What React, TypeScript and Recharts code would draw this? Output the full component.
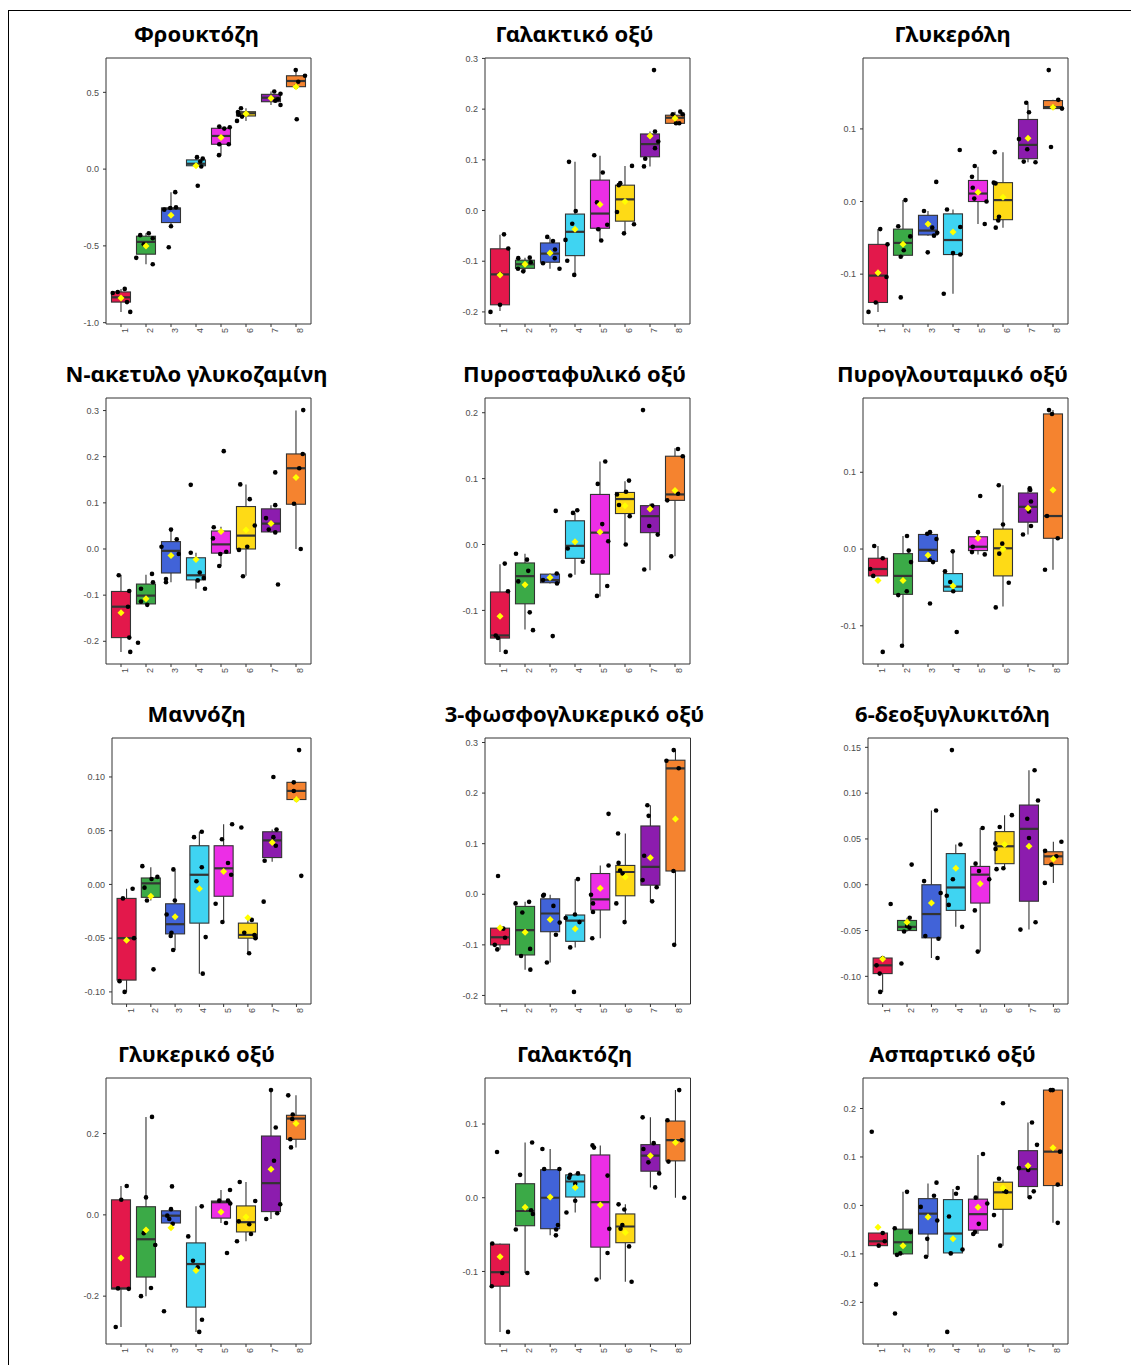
import React from "react";
import { ComposedChart, XAxis, YAxis, Bar, Scatter, ReferenceArea } from "recharts";

// Eight sample groups, shared by every panel
const groups = [1, 2, 3, 4, 5, 6, 7, 8];
const groupColors = ["#E3184B", "#3BAA47", "#4163D8", "#3FD4F2", "#EC2EE6", "#FEDA16", "#8C1CAE", "#F5832F"];

// Φρουκτόζη
const fruLow = [-0.93, -0.62, -0.372, 0.017, 0.091, 0.314, 0.418, 0.537];
const fruQ1 = [-0.866, -0.554, -0.348, 0.022, 0.162, 0.346, 0.439, 0.537];
const fruMedian = [-0.835, -0.474, -0.258, 0.035, 0.216, 0.364, 0.465, 0.574];
const fruQ3 = [-0.8, -0.437, -0.253, 0.06, 0.266, 0.374, 0.487, 0.608];
const fruHigh = [-0.78, -0.418, -0.15, 0.078, 0.277, 0.396, 0.506, 0.645];
const fruMean = [-0.84, -0.5, -0.3, 0.022, 0.206, 0.36, 0.461, 0.537];
const fruPoints = [
  [1, -0.33, -0.807], [1, -0.13, -0.8], [1, 0.15, -0.78], [1, 0.24, -0.866], [1, 0.37, -0.93],
  [2, -0.23, -0.43], [2, 0.11, -0.418], [2, 0.27, -0.45], [2, -0.09, -0.49], [2, -0.39, -0.578], [2, 0.27, -0.62],
  [3, 0.17, -0.15], [3, -0.27, -0.264], [3, -0.03, -0.253], [3, 0.2, -0.249], [3, 0, -0.372], [3, -0.09, -0.509],
  [4, 0.04, 0.078], [4, 0.27, 0.069], [4, 0.17, 0.05], [4, 0.21, 0.017], [4, 0.07, -0.108],
  [5, -0.07, 0.277], [5, 0.13, 0.264], [5, 0.35, 0.273], [5, -0.07, 0.162], [5, 0.31, 0.162], [5, -0.08, 0.091],
  [6, -0.36, 0.314], [6, -0.32, 0.372], [6, -0.2, 0.396], [6, -0.16, 0.342], [6, -0.29, 0.355],
  [7, 0.13, 0.506], [7, 0.38, 0.491], [7, 0.28, 0.455], [7, 0.38, 0.418], [7, 0.17, 0.446],
  [8, -0.01, 0.645], [8, 0.36, 0.608], [8, 0.09, 0.569], [8, 0, 0.537], [8, 0.03, 0.325],
];
const fruTicks = [-1, -0.5, 0, 0.5];

// Γαλακτικό οξύ
const lacLow = [-0.198, -0.12, -0.115, -0.127, -0.059, -0.045, 0.087, 0.172];
const lacQ1 = [-0.186, -0.114, -0.102, -0.089, -0.035, -0.021, 0.106, 0.172];
const lacMedian = [-0.126, -0.106, -0.085, -0.042, -0.006, 0.022, 0.131, 0.183];
const lacQ3 = [-0.0755, -0.098, -0.064, -0.007, 0.06, 0.05, 0.151, 0.188];
const lacHigh = [-0.048, -0.093, -0.053, 0.096, 0.108, 0.088, 0.156, 0.195];
const lacMean = [-0.127, -0.106, -0.084, -0.037, 0.012, 0.018, 0.147, 0.182];
const lacPoints = [
  [1, 0.16, -0.047], [1, 0.33, -0.075], [1, 0, -0.186], [1, -0.38, -0.2], [1, 0, -0.126],
  [2, -0.27, -0.094], [2, 0.19, -0.093], [2, -0.28, -0.115], [2, -0.07, -0.12], [2, 0.23, -0.102],
  [3, -0.11, -0.052], [3, 0.12, -0.06], [3, 0.2, -0.077], [3, 0.19, -0.094], [3, -0.28, -0.104], [3, 0.38, -0.115],
  [4, -0.24, 0.096], [4, 0.03, -0.001], [4, -0.11, -0.026], [4, -0.38, -0.058], [4, -0.31, -0.099], [4, -0.03, -0.127],
  [5, -0.23, 0.109], [5, 0.11, 0.075], [5, -0.12, 0.016], [5, 0.29, -0.028], [5, -0.07, -0.037], [5, 0.05, -0.059],
  [6, 0.28, 0.088], [6, -0.19, 0.054], [6, -0.25, 0.05], [6, -0.32, -0.003], [6, 0.36, -0.027], [6, -0.04, -0.045],
  [7, 0.16, 0.277], [7, 0.2, 0.156], [7, 0.33, 0.136], [7, 0.2, 0.123], [7, -0.19, 0.102], [7, -0.24, 0.087],
  [8, 0.21, 0.195], [8, 0.31, 0.19], [8, 0.04, 0.172], [8, 0.17, 0.172], [8, -0.09, 0.19], [8, 0.01, 0.183],
];
const lacTicks = [-0.2, -0.1, 0, 0.1, 0.2, 0.3];

// Γλυκερόλη
const glyLow = [-0.152, -0.076, -0.047, -0.127, -0.031, -0.036, 0.054, 0.128];
const glyQ1 = [-0.139, -0.074, -0.046, -0.073, 0.0, -0.025, 0.059, 0.128];
const glyMedian = [-0.102, -0.057, -0.04, -0.053, 0.011, 0.002, 0.078, 0.13];
const glyQ3 = [-0.059, -0.038, -0.019, -0.017, 0.029, 0.026, 0.113, 0.139];
const glyHigh = [-0.038, 0.002, -0.013, -0.011, 0.048, 0.068, 0.135, 0.14];
const glyMean = [-0.098, -0.059, -0.031, -0.042, 0.0128, 0.006, 0.087, 0.13];
const glyPoints = [
  [1, 0.09, -0.038], [1, 0.38, -0.059], [1, 0.34, -0.104], [1, -0.09, -0.139], [1, -0.38, -0.152],
  [2, 0.1, 0.002], [2, -0.19, -0.034], [2, 0.29, -0.048], [2, 0.03, -0.067], [2, -0.09, -0.076], [2, -0.09, -0.132],
  [3, -0.16, -0.013], [3, 0.33, 0.027], [3, 0.17, -0.036], [3, 0.37, -0.043], [3, 0.24, -0.047], [3, -0.01, -0.07],
  [4, 0.27, 0.071], [4, -0.24, -0.011], [4, 0.29, -0.035], [4, 0, -0.071], [4, 0.29, -0.073], [4, -0.37, -0.127],
  [5, -0.13, 0.049], [5, -0.24, 0.034], [5, -0.21, 0.019], [5, -0.15, 0.004], [5, 0.34, 0.0], [5, 0.27, -0.031],
  [6, -0.33, 0.068], [6, -0.37, 0.026], [6, -0.3, 0.025], [6, -0.16, -0.021], [6, -0.19, -0.026], [6, -0.29, -0.036],
  [7, -0.07, 0.136], [7, 0.04, 0.123], [7, -0.36, 0.086], [7, -0.03, 0.072], [7, -0.17, 0.055], [7, 0.3, 0.054],
  [8, -0.17, 0.181], [8, 0.21, 0.14], [8, 0.36, 0.128], [8, -0.08, 0.075], [8, 0.01, 0.13],
];
const glyTicks = [-0.1, 0, 0.1];

// N-ακετυλο γλυκοζαμίνη
const nagLow = [-0.223, -0.121, -0.072, -0.086, -0.037, -0.058, 0.036, 0.0];
const nagQ1 = [-0.192, -0.119, -0.052, -0.067, -0.009, 0.0, 0.037, 0.097];
const nagMedian = [-0.125, -0.101, -0.004, -0.057, 0.01, 0.029, 0.055, 0.175];
const nagQ3 = [-0.092, -0.076, 0.016, -0.019, 0.039, 0.092, 0.087, 0.206];
const nagHigh = [-0.056, -0.056, 0.042, -0.008, 0.048, 0.14, 0.095, 0.3];
const nagMean = [-0.138, -0.108, -0.014, -0.023, 0.038, 0.041, 0.055, 0.155];
const nagPoints = [
  [1, -0.09, -0.057], [1, 0.33, -0.091], [1, 0.28, -0.125], [1, 0.33, -0.192], [1, 0.37, -0.223],
  [2, 0.24, -0.054], [2, 0.28, -0.072], [2, -0.2, -0.086], [2, -0.2, -0.114], [2, 0.05, -0.121], [2, -0.32, -0.203],
  [3, 0, 0.042], [3, 0.23, 0.021], [3, -0.38, 0.005], [3, 0.31, -0.011], [3, -0.2, -0.065], [3, -0.2, -0.072],
  [4, -0.21, 0.139], [4, -0.21, -0.008], [4, 0.15, -0.051], [4, 0.07, -0.068], [4, 0.31, -0.063], [4, 0.36, -0.086],
  [5, 0.11, 0.212], [5, -0.29, 0.047], [5, -0.32, 0.023], [5, -0.03, -0.011], [5, 0.21, -0.006], [5, -0.07, -0.037],
  [6, -0.23, 0.14], [6, 0.15, 0.108], [6, 0.35, 0.051], [6, 0.05, 0.005], [6, -0.28, -0.002], [6, -0.12, -0.059],
  [7, 0.17, 0.166], [7, 0.17, 0.095], [7, -0.2, 0.067], [7, -0.09, 0.042], [7, 0.17, 0.036], [7, 0.28, -0.077],
  [8, 0.29, 0.301], [8, 0.27, 0.206], [8, 0.13, 0.175], [8, -0.08, 0.098], [8, 0.19, 0.0],
];
const nagTicks = [-0.2, -0.1, 0, 0.1, 0.2, 0.3];

// Πυροσταφυλικό οξύ
const pyrLow = [-0.163, -0.129, -0.059, -0.046, -0.079, 0.0, -0.039, -0.018];
const pyrQ1 = [-0.142, -0.09, -0.058, -0.021, -0.045, 0.047, 0.018, 0.067];
const pyrMedian = [-0.138, -0.048, -0.054, -0.002, 0.018, 0.069, 0.043, 0.076];
const pyrQ3 = [-0.072, -0.028, -0.045, 0.036, 0.076, 0.079, 0.059, 0.134];
const pyrHigh = [-0.03, -0.014, -0.044, 0.048, 0.126, 0.096, 0.062, 0.146];
const pyrMean = [-0.109, -0.061, -0.05, 0.004, 0.019, 0.059, 0.054, 0.082];
const pyrPoints = [
  [1, 0.19, -0.029], [1, 0.32, -0.071], [1, -0.17, -0.138], [1, -0.08, -0.142], [1, 0.23, -0.163],
  [2, -0.36, -0.014], [2, 0.08, -0.023], [2, 0.13, -0.04], [2, -0.27, -0.056], [2, 0.19, -0.103], [2, 0.32, -0.13],
  [3, 0.23, 0.051], [3, 0.27, -0.044], [3, -0.28, -0.054], [3, 0.28, -0.059], [3, 0.11, -0.139],
  [4, 0.09, 0.052], [4, -0.08, 0.048], [4, -0.29, -0.006], [4, 0.31, -0.026], [4, -0.19, -0.047],
  [5, 0.21, 0.126], [5, -0.09, 0.092], [5, 0.09, 0.031], [5, 0.33, 0.005], [5, 0.29, -0.063], [5, -0.12, -0.078],
  [6, 0.16, 0.097], [6, 0.04, 0.08], [6, -0.32, 0.076], [6, -0.24, 0.06], [6, 0.19, 0.043], [6, 0.03, 0.0],
  [7, -0.28, 0.204], [7, 0.09, 0.059], [7, -0.03, 0.028], [7, 0.31, 0.015], [7, -0.23, -0.038],
  [8, 0.12, 0.145], [8, 0.31, 0.134], [8, 0.12, 0.077], [8, -0.31, 0.067], [8, -0.15, -0.018],
];
const pyrTicks = [-0.1, 0, 0.1, 0.2];

// Πυρογλουταμικό οξύ
const pglLow = [-0.035, -0.126, -0.017, -0.055, -0.007, -0.075, 0.019, -0.027];
const pglQ1 = [-0.035, -0.059, -0.016, -0.055, -0.002, -0.035, 0.035, 0.014];
const pglMedian = [-0.026, -0.035, -0.001, -0.049, 0.003, 0.001, 0.055, 0.043];
const pglQ3 = [-0.012, -0.006, 0.019, -0.032, 0.016, 0.026, 0.073, 0.176];
const pglHigh = [0.004, 0.017, 0.022, -0.003, 0.022, 0.083, 0.079, 0.181];
const pglMean = [-0.041, -0.041, -0.008, -0.048, 0.014, 0.0, 0.053, 0.077];
const pglPoints = [
  [1, -0.15, 0.004], [1, 0.19, -0.012], [1, -0.31, -0.026], [1, -0.19, -0.035], [1, 0.19, -0.134],
  [2, 0.16, 0.017], [2, 0.23, -0.002], [2, 0.32, -0.017], [2, 0.15, -0.055], [2, -0.19, -0.06], [2, -0.04, -0.126],
  [3, -0.03, 0.02], [3, 0.08, 0.022], [3, 0.34, 0.013], [3, 0.07, -0.014], [3, 0.2, -0.017], [3, 0.08, -0.071],
  [4, -0.01, -0.003], [4, -0.32, -0.029], [4, -0.11, -0.043], [4, 0.01, -0.055], [4, 0.15, -0.108],
  [5, 0.09, 0.069], [5, 0, 0.022], [5, -0.21, 0.003], [5, -0.24, -0.004], [5, 0.27, -0.007],
  [6, -0.17, 0.083], [6, 0, 0.032], [6, -0.03, 0.007], [6, -0.15, -0.006], [6, 0.23, -0.044], [6, -0.29, -0.076],
  [7, 0.07, 0.079], [7, 0.09, 0.077], [7, 0.12, 0.062], [7, 0.04, 0.049], [7, 0.12, 0.03], [7, -0.2, 0.019],
  [8, -0.16, 0.181], [8, -0.04, 0.176], [8, -0.24, 0.043], [8, 0.19, 0.014], [8, -0.32, -0.027],
];
const pglTicks = [-0.1, 0, 0.1];

// Μαννόζη
const manLow = [-0.1, -0.015, -0.061, -0.083, -0.035, -0.064, 0.021, 0.079];
const manQ1 = [-0.089, -0.012, -0.046, -0.036, -0.011, -0.05, 0.025, 0.079];
const manMedian = [-0.05, 0.001, -0.037, 0.009, 0.015, -0.047, 0.041, 0.087];
const manQ3 = [-0.013, 0.006, -0.018, 0.036, 0.036, -0.036, 0.049, 0.095];
const manHigh = [-0.004, 0.016, 0.013, 0.049, 0.056, -0.033, 0.051, 0.095];
const manMean = [-0.052, -0.011, -0.03, -0.004, 0.012, -0.031, 0.039, 0.079];
const manPoints = [
  [1, 0.25, -0.004], [1, -0.15, -0.013], [1, 0.31, -0.05], [1, -0.29, -0.09], [1, -0.08, -0.1],
  [2, -0.35, 0.017], [2, 0.27, 0.007], [2, 0.03, 0.005], [2, -0.26, -0.003], [2, -0.16, -0.015], [2, 0.11, -0.079],
  [3, -0.07, 0.014], [3, -0.01, -0.015], [3, -0.35, -0.028], [3, -0.15, -0.045], [3, -0.18, -0.048], [3, -0.08, -0.061],
  [4, -0.22, 0.044], [4, 0.1, 0.049], [4, 0.1, 0.016], [4, -0.12, 0.003], [4, 0.26, -0.049], [4, 0.14, -0.083],
  [5, 0.35, 0.056], [5, -0.07, 0.042], [5, 0.18, 0.02], [5, 0.31, 0.009], [5, -0.33, -0.018], [5, -0.05, -0.035],
  [6, -0.27, 0.053], [6, 0.16, -0.033], [6, -0.15, -0.045], [6, 0.27, -0.047], [6, 0.31, -0.05], [6, 0.05, -0.064],
  [7, 0.05, 0.1], [7, 0.18, 0.051], [7, 0.05, 0.044], [7, 0.15, 0.036], [7, -0.31, 0.022], [7, -0.35, -0.016],
  [8, 0.11, 0.125], [8, -0.11, 0.095], [8, -0.11, 0.087], [8, 0, 0.079], [8, 0.2, 0.008],
];
const manTicks = [-0.1, -0.05, 0, 0.05, 0.1];

// 3-φωσφογλυκερικό οξύ
const pgaLow = [-0.109, -0.149, -0.135, -0.105, -0.087, -0.055, -0.014, -0.1];
const pgaQ1 = [-0.1, -0.12, -0.074, -0.093, -0.031, -0.003, 0.018, 0.046];
const pgaMedian = [-0.085, -0.071, -0.038, -0.052, -0.01, 0.044, 0.054, 0.249];
const pgaQ3 = [-0.067, -0.024, -0.009, -0.041, 0.041, 0.057, 0.135, 0.265];
const pgaHigh = [-0.067, -0.015, -0.001, 0.03, 0.057, 0.12, 0.176, 0.285];
const pgaMean = [-0.066, -0.075, -0.05, -0.068, 0.012, 0.034, 0.072, 0.149];
const pgaPoints = [
  [1, -0.08, 0.036], [1, 0.13, -0.068], [1, 0.2, -0.086], [1, -0.21, -0.1], [1, -0.11, -0.109],
  [2, -0.38, -0.018], [2, 0.16, -0.015], [2, -0.11, -0.036], [2, 0.2, -0.108], [2, -0.16, -0.122], [2, 0.21, -0.149],
  [3, -0.25, -0.001], [3, -0.28, -0.003], [3, 0.13, -0.023], [3, 0.38, -0.056], [3, 0.23, -0.08], [3, -0.13, -0.135],
  [4, 0.11, 0.03], [4, -0.01, -0.04], [4, -0.38, -0.047], [4, 0.17, -0.055], [4, -0.2, -0.105], [4, -0.05, -0.193],
  [5, 0.33, 0.159], [5, 0.33, 0.057], [5, -0.37, -0.001], [5, -0.29, -0.018], [5, -0.29, -0.035], [5, -0.32, -0.087],
  [6, -0.29, 0.12], [6, -0.27, 0.062], [6, -0.21, 0.047], [6, -0.11, 0.041], [6, -0.36, -0.018], [6, -0.03, -0.055],
  [7, -0.12, 0.176], [7, -0.07, 0.155], [7, -0.25, 0.076], [7, -0.31, 0.028], [7, 0.25, 0.014], [7, 0.07, -0.014],
  [8, -0.07, 0.285], [8, -0.36, 0.264], [8, 0.13, 0.249], [8, -0.08, 0.046], [8, -0.05, -0.1],
];
const pgaTicks = [-0.2, -0.1, 0, 0.1, 0.2, 0.3];

// 6-δεοξυγλυκιτόλη
const ddgLow = [-0.117, -0.051, -0.08, -0.046, -0.073, 0.017, -0.049, 0.002];
const ddgQ1 = [-0.097, -0.05, -0.058, -0.028, -0.02, 0.023, -0.018, 0.022];
const ddgMedian = [-0.088, -0.046, -0.032, -0.003, 0.011, 0.042, 0.061, 0.031];
const ddgQ3 = [-0.08, -0.039, 0.0, 0.034, 0.02, 0.058, 0.087, 0.036];
const ddgHigh = [-0.08, -0.036, 0.081, 0.044, 0.062, 0.076, 0.125, 0.047];
const ddgMean = [-0.081, -0.041, -0.02, 0.018, 0.001, 0.044, 0.042, 0.028];
const ddgPoints = [
  [1, 0.33, -0.021], [1, -0.25, -0.088], [1, -0.12, -0.097], [1, -0.1, -0.117], [1, 0, -0.08],
  [2, 0.19, 0.022], [2, 0.11, -0.036], [2, 0, -0.045], [2, 0.1, -0.047], [2, -0.12, -0.051], [2, -0.23, -0.086],
  [3, 0.19, 0.081], [3, -0.3, 0.004], [3, 0.38, -0.009], [3, -0.25, -0.056], [3, 0.29, -0.059], [3, 0.25, -0.08],
  [4, -0.16, 0.147], [4, 0.19, 0.044], [4, -0.12, 0.006], [4, -0.37, -0.012], [4, -0.29, -0.022], [4, 0.26, -0.046],
  [5, 0.1, 0.062], [5, -0.19, 0.023], [5, -0.05, 0.015], [5, 0.37, 0.006], [5, -0.22, -0.028], [5, -0.1, -0.073],
  [6, 0.3, 0.076], [6, -0.2, 0.063], [6, -0.38, 0.045], [6, -0.37, 0.039], [6, -0.05, 0.018], [6, -0.33, 0.017],
  [7, 0.23, 0.125], [7, 0.37, 0.092], [7, -0.07, 0.072], [7, 0, 0.051], [7, 0.27, -0.041], [7, -0.35, -0.049],
  [8, 0.33, 0.047], [8, -0.34, 0.037], [8, 0.12, 0.031], [8, -0.08, 0.022], [8, -0.35, 0.002],
];
const ddgTicks = [-0.1, -0.05, 0, 0.05, 0.1, 0.15];

// Γλυκερικό οξύ
const glcLow = [-0.276, -0.2, -0.022, -0.288, -0.02, -0.065, -0.01, 0.166];
const glcQ1 = [-0.182, -0.153, -0.02, -0.227, -0.008, -0.042, 0.008, 0.186];
const glcMedian = [-0.181, -0.06, -0.002, -0.121, 0.031, -0.018, 0.078, 0.237];
const glcQ3 = [0.037, 0.02, 0.01, -0.069, 0.034, 0.022, 0.194, 0.245];
const glcHigh = [0.071, 0.241, 0.014, 0.021, 0.061, 0.081, 0.307, 0.294];
const glcMean = [-0.106, -0.037, -0.032, -0.137, 0.007, -0.005, 0.112, 0.225];
const glcPoints = [
  [1, 0.23, 0.071], [1, 0.01, 0.037], [1, -0.12, -0.181], [1, 0.31, -0.182], [1, -0.21, -0.276],
  [2, 0.24, 0.241], [2, 0, 0.043], [2, -0.09, -0.045], [2, 0.37, -0.074], [2, 0.2, -0.18], [2, -0.2, -0.2],
  [3, 0.04, 0.07], [3, 0, 0.014], [3, -0.15, -0.002], [3, -0.07, -0.01], [3, 0.07, -0.022], [3, -0.28, -0.237],
  [4, 0.23, 0.021], [4, -0.31, -0.053], [4, -0.12, -0.113], [4, 0.07, -0.129], [4, 0.24, -0.258], [4, 0.13, -0.288],
  [5, 0.36, 0.061], [5, -0.07, 0.035], [5, 0.28, 0.035], [5, 0.37, 0.028], [5, 0.2, -0.02], [5, 0.24, -0.094],
  [6, -0.25, 0.081], [6, 0.37, 0.034], [6, -0.29, -0.016], [6, 0.13, -0.023], [6, 0.2, -0.047], [6, -0.36, -0.065],
  [7, 0, 0.307], [7, 0.19, 0.215], [7, 0.12, 0.133], [7, 0.37, 0.026], [7, 0.25, 0.004], [7, -0.19, -0.01],
  [8, -0.31, 0.294], [8, -0.13, 0.247], [8, -0.15, 0.236], [8, -0.23, 0.186], [8, -0.2, 0.166],
];
const glcTicks = [-0.2, 0, 0.2];

// Γαλακτόζη
const galLow = [-0.182, -0.102, -0.051, -0.02, -0.111, -0.114, 0.014, 0.0];
const galQ1 = [-0.12, -0.038, -0.042, 0.001, -0.067, -0.061, 0.036, 0.05];
const galMedian = [-0.101, -0.018, 0.0, 0.022, -0.006, -0.039, 0.057, 0.078];
const galQ3 = [-0.063, 0.019, 0.038, 0.031, 0.058, -0.022, 0.072, 0.104];
const galHigh = [-0.062, 0.075, 0.066, 0.033, 0.071, -0.009, 0.109, 0.146];
const galMean = [-0.08, -0.013, 0.001, 0.014, -0.01, -0.047, 0.057, 0.075];
const galPoints = [
  [1, -0.12, 0.062], [1, -0.31, -0.062], [1, 0.09, -0.102], [1, -0.33, -0.12], [1, 0.32, -0.182],
  [2, 0.28, 0.075], [2, -0.2, 0.031], [2, 0.24, -0.017], [2, 0.31, -0.022], [2, -0.37, -0.043], [2, 0.09, -0.102],
  [3, -0.31, 0.066], [3, -0.24, 0.039], [3, 0.37, 0.039], [3, 0.31, -0.037], [3, 0.24, -0.043], [3, 0.23, -0.051],
  [4, 0.11, 0.033], [4, -0.2, 0.031], [4, -0.24, 0.027], [4, 0, 0.019], [4, 0, -0.004], [4, -0.35, -0.02],
  [5, -0.31, 0.071], [5, -0.25, 0.068], [5, 0.29, 0.03], [5, 0.36, -0.042], [5, 0.29, -0.075], [5, -0.15, -0.111],
  [6, -0.27, -0.009], [6, -0.04, -0.016], [6, -0.19, -0.042], [6, -0.12, -0.037], [6, 0.15, -0.066], [6, 0.25, -0.114],
  [7, -0.31, 0.109], [7, 0.13, 0.074], [7, -0.28, 0.066], [7, -0.08, 0.048], [7, 0.35, 0.033], [7, 0.19, 0.014],
  [8, 0.15, 0.146], [8, -0.32, 0.105], [8, 0.25, 0.078], [8, -0.28, 0.049], [8, 0.35, 0.0],
];
const galTicks = [-0.1, 0, 0.1];

// Ασπαρτικό οξύ
const aspLow = [-0.083, -0.102, -0.106, -0.099, -0.059, -0.083, 0.017, -0.036];
const aspQ1 = [-0.083, -0.1, -0.059, -0.098, -0.051, -0.008, 0.039, 0.041];
const aspMedian = [-0.074, -0.076, -0.017, -0.058, -0.018, 0.027, 0.075, 0.111];
const aspQ3 = [-0.057, -0.049, 0.014, 0.012, 0.013, 0.048, 0.113, 0.238];
const aspHigh = [-0.057, 0.028, 0.045, 0.034, 0.104, 0.053, 0.171, 0.238];
const aspMean = [-0.045, -0.083, -0.024, -0.069, -0.004, 0.036, 0.082, 0.119];
const aspPoints = [
  [1, -0.25, 0.152], [1, 0.19, -0.057], [1, 0.27, -0.074], [1, 0.03, -0.083], [1, -0.08, -0.163],
  [2, 0.16, 0.028], [2, -0.33, -0.047], [2, 0.31, -0.055], [2, -0.11, -0.099], [2, -0.24, -0.102], [2, -0.32, -0.223],
  [3, 0.34, 0.047], [3, 0.24, 0.02], [3, -0.29, -0.003], [3, 0.37, -0.031], [3, -0.03, -0.069], [3, -0.08, -0.106],
  [4, 0.19, 0.036], [4, 0.12, 0.024], [4, -0.16, -0.023], [4, 0.38, -0.091], [4, -0.09, -0.099], [4, -0.23, -0.261],
  [5, 0.2, 0.106], [5, -0.09, 0.016], [5, 0.37, 0.004], [5, 0.03, -0.038], [5, -0.12, -0.055], [5, -0.19, -0.059],
  [6, 0, 0.211], [6, -0.16, 0.055], [6, 0.05, 0.03], [6, 0.13, 0.028], [6, -0.36, -0.02], [6, -0.11, -0.083],
  [7, 0.16, 0.171], [7, 0.36, 0.125], [7, 0.01, 0.073], [7, -0.36, 0.077], [7, 0.23, 0.029], [7, 0.07, 0.017],
  [8, -0.09, 0.238], [8, -0.01, 0.238], [8, 0.28, 0.111], [8, 0.19, 0.043], [8, 0.19, -0.036],
];
const aspTicks = [-0.2, -0.1, 0, 0.1, 0.2];

type PanelDef = {
  title: string;
  lo: number[];
  q1: number[];
  med: number[];
  q3: number[];
  hi: number[];
  mean: number[];
  points: number[][];
  ticks: number[];
  digits: number;
  row: number;
  col: number;
  plotLeft: number;
};

const panels: PanelDef[] = [
  { title: "Φρουκτόζη", lo: fruLow, q1: fruQ1, med: fruMedian, q3: fruQ3, hi: fruHigh, mean: fruMean, points: fruPoints, ticks: fruTicks, digits: 1, row: 0, col: 0, plotLeft: 106 },
  { title: "Γαλακτικό οξύ", lo: lacLow, q1: lacQ1, med: lacMedian, q3: lacQ3, hi: lacHigh, mean: lacMean, points: lacPoints, ticks: lacTicks, digits: 1, row: 0, col: 1, plotLeft: 485 },
  { title: "Γλυκερόλη", lo: glyLow, q1: glyQ1, med: glyMedian, q3: glyQ3, hi: glyHigh, mean: glyMean, points: glyPoints, ticks: glyTicks, digits: 1, row: 0, col: 2, plotLeft: 863 },
  { title: "N-ακετυλο γλυκοζαμίνη", lo: nagLow, q1: nagQ1, med: nagMedian, q3: nagQ3, hi: nagHigh, mean: nagMean, points: nagPoints, ticks: nagTicks, digits: 1, row: 1, col: 0, plotLeft: 106 },
  { title: "Πυροσταφυλικό οξύ", lo: pyrLow, q1: pyrQ1, med: pyrMedian, q3: pyrQ3, hi: pyrHigh, mean: pyrMean, points: pyrPoints, ticks: pyrTicks, digits: 1, row: 1, col: 1, plotLeft: 485 },
  { title: "Πυρογλουταμικό οξύ", lo: pglLow, q1: pglQ1, med: pglMedian, q3: pglQ3, hi: pglHigh, mean: pglMean, points: pglPoints, ticks: pglTicks, digits: 1, row: 1, col: 2, plotLeft: 863 },
  { title: "Μαννόζη", lo: manLow, q1: manQ1, med: manMedian, q3: manQ3, hi: manHigh, mean: manMean, points: manPoints, ticks: manTicks, digits: 2, row: 2, col: 0, plotLeft: 112 },
  { title: "3-φωσφογλυκερικό οξύ", lo: pgaLow, q1: pgaQ1, med: pgaMedian, q3: pgaQ3, hi: pgaHigh, mean: pgaMean, points: pgaPoints, ticks: pgaTicks, digits: 1, row: 2, col: 1, plotLeft: 484.5 },
  { title: "6-δεοξυγλυκιτόλη", lo: ddgLow, q1: ddgQ1, med: ddgMedian, q3: ddgQ3, hi: ddgHigh, mean: ddgMean, points: ddgPoints, ticks: ddgTicks, digits: 2, row: 2, col: 2, plotLeft: 868 },
  { title: "Γλυκερικό οξύ", lo: glcLow, q1: glcQ1, med: glcMedian, q3: glcQ3, hi: glcHigh, mean: glcMean, points: glcPoints, ticks: glcTicks, digits: 1, row: 3, col: 0, plotLeft: 106 },
  { title: "Γαλακτόζη", lo: galLow, q1: galQ1, med: galMedian, q3: galQ3, hi: galHigh, mean: galMean, points: galPoints, ticks: galTicks, digits: 1, row: 3, col: 1, plotLeft: 484.5 },
  { title: "Ασπαρτικό οξύ", lo: aspLow, q1: aspQ1, med: aspMedian, q3: aspQ3, hi: aspHigh, mean: aspMean, points: aspPoints, ticks: aspTicks, digits: 1, row: 3, col: 2, plotLeft: 863 },
];

// Page layout
const PLOT_RIGHT = [311, 690, 1068];
const TITLE_CENTER = [196.5, 574.5, 952.5];
const FIRST_TOP = 58;
const ROW_STEP = 340;
const PLOT_H = 266;
const Y_AXIS_W = 40;
const TOP_PAD = 5;
const RIGHT_PAD = 4;
const X_AXIS_H = 22;
const X_DOMAIN: [number, number] = [0.4, 8.6];
const BOX_HALF_W = 9.5;

const AXIS_TEXT = "#4d4d4d";
const FRAME = "#333333";
const TICK_FONT = "'Liberation Sans', Arial, sans-serif";

// Box + whiskers + median, anchored on the range bar [q1, q3]
const BoxShape = (props: any) => {
  const { x, y, width, height, payload } = props;
  if (x == null || y == null) return null;
  const top = Math.min(y, y + height);
  const h = Math.abs(height);
  const { q1, q3, lo, hi, med, color } = payload;
  const py = (v: number) => top + ((q3 - v) / (q3 - q1)) * h;
  const cx = x + (width || 0) / 2;
  const left = cx - BOX_HALF_W;
  const right = cx + BOX_HALF_W;
  return (
    <g>
      <line x1={cx} x2={cx} y1={py(hi)} y2={top} stroke={FRAME} strokeWidth={1.1} />
      <line x1={cx} x2={cx} y1={top + h} y2={py(lo)} stroke={FRAME} strokeWidth={1.1} />
      <rect x={left} y={top} width={right - left} height={h} fill={color} stroke={FRAME} strokeWidth={1.1} />
      <line x1={left} x2={right} y1={py(med)} y2={py(med)} stroke={FRAME} strokeWidth={2.2} />
    </g>
  );
};

const Dot = (p: any) => <circle cx={p.cx} cy={p.cy} r={2.3} fill="#000" />;

const Diamond = (p: any) => {
  const s = 3.5;
  const { cx, cy } = p;
  return <polygon points={`${cx},${cy - s} ${cx + s},${cy} ${cx},${cy + s} ${cx - s},${cy}`} fill="#FFFF00" />;
};

const XTick = (p: any) => {
  const { x, y, payload } = p;
  return (
    <text x={x} y={y} dy={7} textAnchor="end" transform={`rotate(-90 ${x} ${y})`} fontSize={9} fill={AXIS_TEXT} fontFamily={TICK_FONT}>
      {payload.value}
    </text>
  );
};

function BoxPanel({ panel }: { panel: PanelDef }) {
  const rows = groups.map((g, i) => ({
    x: g,
    box: [panel.q1[i], panel.q3[i]],
    lo: panel.lo[i],
    q1: panel.q1[i],
    med: panel.med[i],
    q3: panel.q3[i],
    hi: panel.hi[i],
    color: groupColors[i],
  }));
  const pts = panel.points.map(([g, dx, y]) => ({ x: g + dx, y }));
  const means = groups.map((g, i) => ({ x: g, y: panel.mean[i] }));

  // ggplot-style 5% expansion around the plotted values
  const vals = [...panel.points.map((p) => p[2]), ...panel.lo, ...panel.hi];
  const vMin = Math.min(...vals);
  const vMax = Math.max(...vals);
  const pad = (vMax - vMin) * 0.05;
  const domain: [number, number] = [vMin - pad, vMax + pad];

  const plotTop = FIRST_TOP + panel.row * ROW_STEP;
  const plotW = PLOT_RIGHT[panel.col] - panel.plotLeft;
  const width = Y_AXIS_W + plotW + RIGHT_PAD;
  const height = TOP_PAD + PLOT_H + X_AXIS_H;
  const center = TITLE_CENTER[panel.col];

  return (
    <>
      <div
        style={{
          position: "absolute",
          left: center - 170,
          width: 340,
          top: plotTop - 40,
          height: 30,
          lineHeight: "30px",
          textAlign: "center",
          fontFamily: "'Noto Sans', 'Open Sans', sans-serif",
          fontWeight: 700,
          fontSize: 22,
          color: "#000",
          whiteSpace: "nowrap",
        }}
      >
        {panel.title}
      </div>
      <div style={{ position: "absolute", left: panel.plotLeft - Y_AXIS_W, top: plotTop - TOP_PAD }}>
        <ComposedChart width={width} height={height} data={rows} margin={{ top: TOP_PAD, right: RIGHT_PAD, bottom: 0, left: 0 }}>
          <XAxis
            type="number"
            dataKey="x"
            domain={X_DOMAIN}
            allowDataOverflow
            ticks={groups}
            interval={0}
            tickSize={3}
            tickMargin={1}
            height={X_AXIS_H}
            axisLine={false}
            tickLine={{ stroke: FRAME }}
            tick={<XTick />}
          />
          <YAxis
            type="number"
            domain={domain}
            allowDataOverflow
            ticks={panel.ticks}
            interval={0}
            width={Y_AXIS_W}
            tickSize={3}
            tickMargin={4}
            axisLine={false}
            tickLine={{ stroke: FRAME }}
            tick={{ fontSize: 9, fill: AXIS_TEXT, fontFamily: TICK_FONT }}
            tickFormatter={(v: number) => v.toFixed(panel.digits)}
          />
          <ReferenceArea
            x1={X_DOMAIN[0]}
            x2={X_DOMAIN[1]}
            y1={domain[0]}
            y2={domain[1]}
            fill="none"
            fillOpacity={0}
            stroke={FRAME}
            strokeWidth={1}
          />
          <Bar dataKey="box" barSize={19} shape={BoxShape} isAnimationActive={false} />
          <Scatter data={pts} dataKey="y" shape={Dot} isAnimationActive={false} />
          <Scatter data={means} dataKey="y" shape={Diamond} isAnimationActive={false} />
        </ComposedChart>
      </div>
    </>
  );
}

export default function App() {
  return (
    <div style={{ position: "absolute", left: 0, top: 0, width: 1131, height: 1365, background: "#fff", overflow: "hidden" }}>
      <div
        style={{
          position: "absolute",
          left: 8,
          top: 10,
          width: 1140,
          height: 1400,
          borderTop: "1px solid #000",
          borderLeft: "1px solid #000",
        }}
      />
      {panels.map((p) => (
        <BoxPanel key={p.title} panel={p} />
      ))}
    </div>
  );
}
